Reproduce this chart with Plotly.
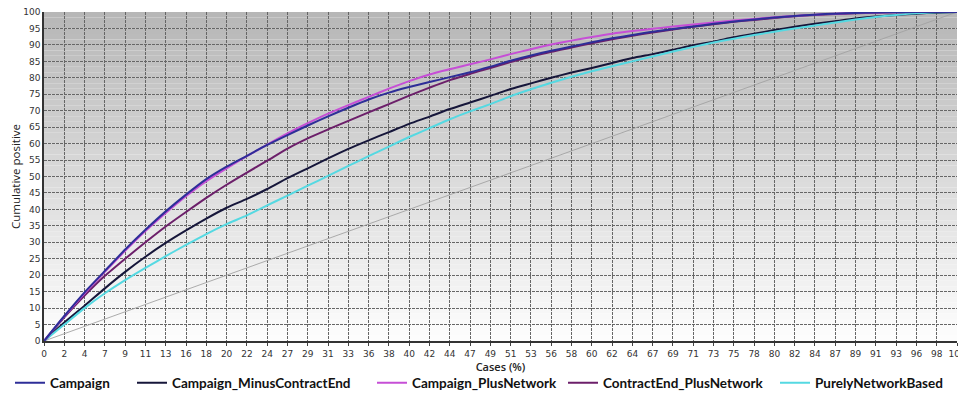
import plotly.graph_objects as go

x_labels = ["0","2","4","7","9","11","13","16","18","20","22","24","27","29","31","33",
            "36","38","40","42","44","47","49","51","53","56","58","60","62","64","67",
            "69","71","73","75","78","80","82","84","87","89","91","93","96","98","100"]

campaign = [0,7.6,14.8,21.3,27.8,33.8,39.4,44.5,49.2,53,56.3,59.6,62.6,65.5,68.3,70.9,
            73.4,75.5,77.2,78.7,80.2,81.7,83.4,85.2,86.8,88.2,89.5,90.8,92,93,94,94.8,
            95.6,96.4,97.1,97.7,98.3,98.8,99.2,99.5,99.7,99.85,99.95,100,100,100]
campaign_minus_contractend = [0,5.6,10.7,16,21,25.6,29.8,33.6,37.2,40.5,43.2,46.2,49.5,
            52.5,55.5,58.4,61,63.5,66,68.2,70.5,72.5,74.5,76.6,78.3,80,81.6,83,84.5,86,
            87.2,88.5,89.9,91,92.3,93.4,94.5,95.5,96.4,97.2,98,98.6,99.1,99.5,99.8,100]
campaign_plus_network = [0,7.5,14.5,21,27.4,33.4,38.9,44,48.6,52.5,56.2,59.7,63.1,66.2,
            69.1,71.7,74.2,76.7,79,81,82.6,84.1,85.6,87.2,88.7,90.1,91.3,92.4,93.4,94.2,
            94.9,95.6,96.2,96.8,97.4,97.9,98.4,98.8,99.2,99.5,99.7,99.85,99.95,100,100,100]
contractend_plus_network = [0,7.2,13.8,19.8,25,30,34.8,39.2,43.5,47.5,51.2,54.8,58.5,61.6,
            64.3,66.9,69.5,72,74.6,77,79.3,81.2,83,84.8,86.4,87.9,89.2,90.5,91.7,92.8,
            93.8,94.7,95.5,96.3,97,97.6,98.2,98.7,99.1,99.4,99.6,99.8,99.9,100,100,100]
purely_network_based = [0,5,10,14.5,18.5,22.2,25.8,29.2,32.5,35.5,38.2,41.2,44.2,47.2,
            50.2,53.2,56.2,59.1,62,64.7,67.4,69.8,72,74.4,76.5,78.5,80.3,82,83.5,85,86.5,
            88,89.4,90.7,91.9,93,94,95,95.9,96.8,97.7,98.5,99.1,99.6,99.9,100]

series = [
    ("Campaign", campaign, "#2e2e98"),
    ("Campaign_MinusContractEnd", campaign_minus_contractend, "#16163a"),
    ("Campaign_PlusNetwork", campaign_plus_network, "#c64fd6"),
    ("ContractEnd_PlusNetwork", contractend_plus_network, "#6c1f6a"),
    ("PurelyNetworkBased", purely_network_based, "#55d9e2"),
]
legend_ids = ["legend", "legend2", "legend3", "legend4", "legend5"]
legend_left_px = [10, 132, 372, 563, 775]   # screen px of each legend block

# the page body adds an 8px offset; size the figure to the visible area
OFF = 8
W, H = 966 - OFF, 393 - OFF
PLOT_L, PLOT_R, PLOT_T, PLOT_B = 44 - OFF, 9, 4, 52
plot_w = W - PLOT_L - PLOT_R
plot_h = H - PLOT_T - PLOT_B

idx = list(range(len(x_labels)))
fig = go.Figure()

# baseline diagonal
fig.add_trace(go.Scatter(x=[idx[0], idx[-1]], y=[0, 100], mode="lines",
                         line=dict(color="#a3a3a3", width=0.9), showlegend=False,
                         hoverinfo="skip"))

draw_order = [1, 4, 3, 2, 0]
for k in draw_order:
    name, vals, col = series[k]
    fig.add_trace(go.Scatter(x=idx, y=vals, mode="lines", name=name,
                             line=dict(color=col, width=2, shape="spline", smoothing=0.6),
                             legend=legend_ids[k]))

# vertical gradient background in plot area
shapes = []
n = 60
top = (182, 182, 182)
bot = (254, 254, 254)
for i in range(n):
    t = (i + 0.5) / n
    c = tuple(int(round(bot[j] + (top[j] - bot[j]) * t)) for j in range(3))
    shapes.append(dict(type="rect", xref="x domain", yref="y domain",
                       x0=0, x1=1, y0=i / n, y1=(i + 1) / n,
                       fillcolor="rgb(%d,%d,%d)" % c, line=dict(width=0), layer="below"))

legend_font = dict(family="Lato", size=13.5, color="#111", weight="bold")
legend_layout = {}
for lid, px in zip(legend_ids, legend_left_px):
    legend_layout[lid] = dict(orientation="h", x=(px - OFF - PLOT_L) / plot_w, xanchor="left",
                              y=-42 / plot_h, yanchor="middle", font=legend_font,
                              bgcolor="rgba(0,0,0,0)")

fig.update_layout(
    width=W, height=H,
    margin=dict(l=PLOT_L, r=PLOT_R, t=PLOT_T, b=PLOT_B, autoexpand=False),
    paper_bgcolor="white", plot_bgcolor="white",
    shapes=shapes,
    showlegend=True,
    font=dict(family="DejaVu Sans", color="#333"),
    **legend_layout,
)

fig.update_xaxes(
    range=[0, len(x_labels) - 1], tickmode="array", tickvals=idx, ticktext=x_labels,
    tickfont=dict(size=9, color="#333"), showgrid=True, gridcolor="#666",
    griddash="3px,1px", gridwidth=1, zeroline=False, showline=True, linecolor="#333",
    linewidth=1.5, ticks="outside", ticklen=3, tickcolor="#444", automargin=False,
    ticklabeloverflow="allow",
    title=dict(text="Cases (%)",
               font=dict(family="Open Sans", size=11, color="#222", weight=600),
               standoff=3),
)
fig.update_yaxes(
    range=[0, 100], dtick=5, tickfont=dict(size=9, color="#333"), showgrid=True,
    gridcolor="#666", griddash="3px,1px", gridwidth=1, zeroline=False, showline=True,
    linecolor="#333", linewidth=1.5, ticks="", automargin=False,
    ticklabeloverflow="allow",
    title=dict(text="Cumulative positive", font=dict(family="Open Sans", size=11.5, color="#222"),
               standoff=3),
)

fig.write_html("out.html")
